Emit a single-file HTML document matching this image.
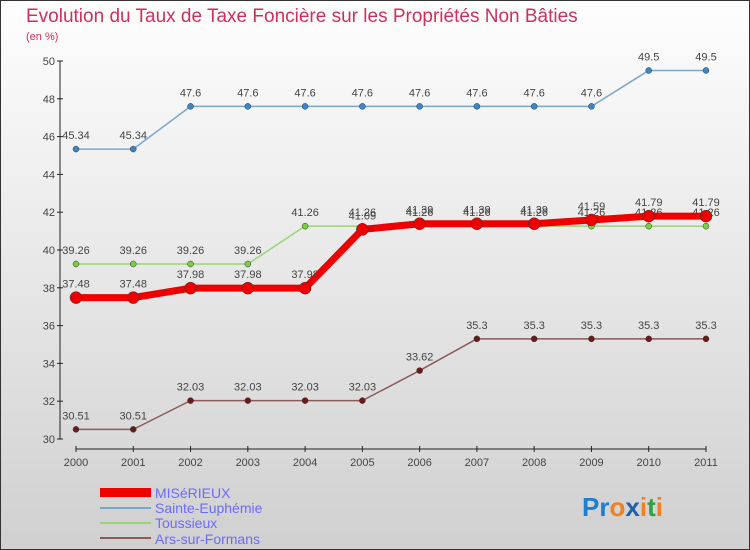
<!DOCTYPE html>
<html><head><meta charset="utf-8"><style>
body{margin:0}
#c{position:relative;width:750px;height:550px;overflow:hidden;font-family:"Liberation Sans",sans-serif}
</style></head><body>
<div id="c">
<svg id="s" width="750" height="550" xmlns="http://www.w3.org/2000/svg">
<defs><linearGradient id="bg" x1="0" y1="0" x2="0" y2="1"><stop offset="0" stop-color="#fefefe"/><stop offset="1" stop-color="#d0d0d0"/></linearGradient></defs>
<rect x="0.5" y="0.5" width="749" height="549" fill="url(#bg)" stroke="#333"/>
<text x="26" y="22" font-size="19" fill="#d0305a">Evolution du Taux de Taxe Foncière sur les Propriétés Non Bâties</text>
<text x="26" y="40" font-size="11" fill="#d0305a">(en %)</text>
<g id="axes"></g><g id="plot"></g>
<g>
<rect x="100" y="488" width="51" height="9" fill="#e00"/>
<text x="155" y="498" font-size="14" fill="#6b6bff">MISéRIEUX</text>
<line x1="100" y1="508" x2="151" y2="508" stroke="#7aa6cc" stroke-width="2"/>
<text x="155" y="513" font-size="14" fill="#6b6bff">Sainte-Euphémie</text>
<line x1="100" y1="523" x2="151" y2="523" stroke="#99d477" stroke-width="2"/>
<text x="155" y="528" font-size="14" fill="#6b6bff">Toussieux</text>
<line x1="100" y1="538" x2="151" y2="538" stroke="#8b5a5a" stroke-width="2"/>
<text x="155" y="544" font-size="14" fill="#6b6bff">Ars-sur-Formans</text>
</g>
<text x="582" y="516" font-size="26" font-weight="bold"><tspan fill="#1e7fd0">Pr</tspan><tspan fill="#f08020">o</tspan><tspan fill="#1e5fb0">x</tspan><tspan fill="#f08020">i</tspan><tspan fill="#30a040">t</tspan><tspan fill="#f08020">i</tspan></text>
</svg></div>
<script>
const years=[2000,2001,2002,2003,2004,2005,2006,2007,2008,2009,2010,2011];
const yTicks=[30,32,34,36,38,40,42,44,46,48,50];
const miserieux=[37.48,37.48,37.98,37.98,37.98,41.09,41.39,41.39,41.39,41.59,41.79,41.79];
const sainteEuphemie=[45.34,45.34,47.6,47.6,47.6,47.6,47.6,47.6,47.6,47.6,49.5,49.5];
const toussieux=[39.26,39.26,39.26,39.26,41.26,41.26,41.26,41.26,41.26,41.26,41.26,41.26];
const ars=[30.51,30.51,32.03,32.03,32.03,32.03,33.62,35.3,35.3,35.3,35.3,35.3];
const NS="http://www.w3.org/2000/svg";
const X=i=>76+i*(630/11), Y=v=>439-(v-30)*18.9;
function mk(t,a,p){const e=document.createElementNS(NS,t);for(const k in a)e.setAttribute(k,a[k]);p.appendChild(e);return e;}
const ax=document.getElementById('axes'),pl=document.getElementById('plot');
const ya=mk('line',{x1:60,y1:Y(50),x2:60,y2:Y(30),stroke:'#222'},ax);


yTicks.forEach(v=>{
 mk('line',{x1:57,y1:Y(v),x2:63,y2:Y(v),stroke:'#222'},ax);
 const t=mk('text',{x:55,y:Y(v)+4,'font-size':11,fill:'#444','text-anchor':'end'},ax);t.textContent=v;
 
 
});
const xa=mk('line',{x1:76,y1:449,x2:706,y2:449,stroke:'#222'},ax);


years.forEach((y,i)=>{
 mk('line',{x1:X(i),y1:446,x2:X(i),y2:452,stroke:'#222'},ax);
 const t=mk('text',{x:X(i),y:466,'font-size':11,fill:'#444','text-anchor':'middle'},ax);t.textContent=y;
 
 
});
function series(d,col,w,r,dot,name){
 const g=mk('g',{},pl);
 
 
 mk('polyline',{points:d.map((v,i)=>X(i)+','+Y(v)).join(' '),fill:'none',stroke:col,'stroke-width':w,'stroke-linejoin':'round'},g);
 d.forEach((v,i)=>{
  const c=mk('circle',{cx:X(i),cy:Y(v),r:r,fill:dot,stroke:'#333','stroke-width':0.5},g);
  
  
  const t=mk('text',{x:X(i),y:Y(v)-10,'font-size':11,fill:'#444','text-anchor':'middle'},g);
  t.textContent=String(v);
  
  
 });
}
series(sainteEuphemie,'#7aa6cc',1.5,3,'#3a86c8','sainte-euphemie');
series(toussieux,'#99d477',1.5,3,'#7ccc44','toussieux');
series(ars,'#8b5a5a',1.5,3,'#6b1a1a','ars-sur-formans');
series(miserieux,'#ee0000',7,6,'#ee0000','miserieux');
</script>
</body></html>
